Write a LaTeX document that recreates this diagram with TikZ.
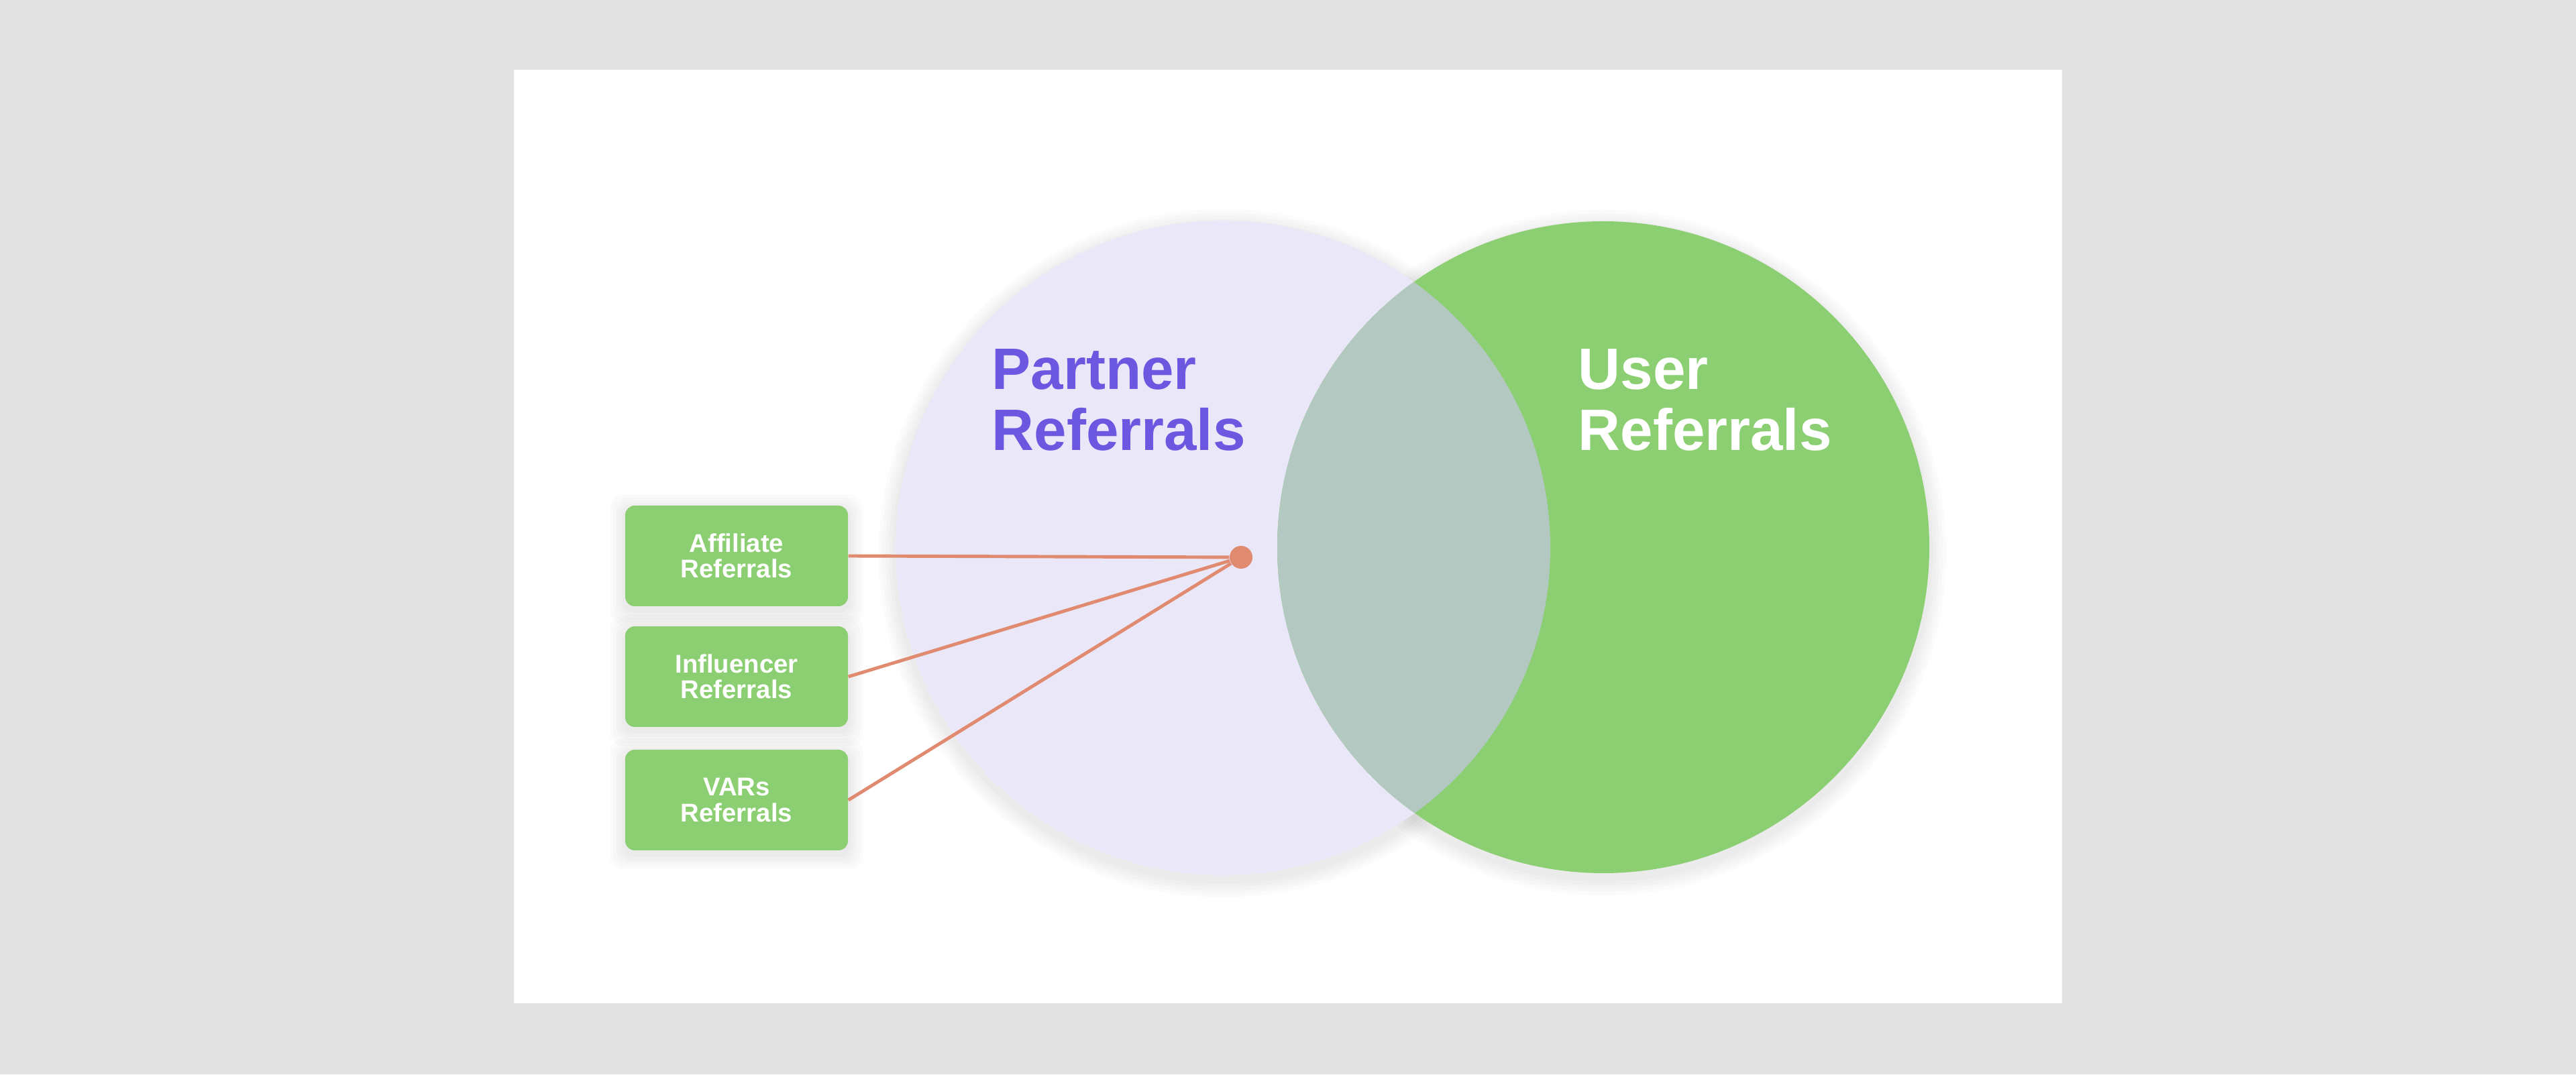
\documentclass[tikz,border=0pt]{standalone}
\usepackage{fontspec}
\setmainfont{Liberation Sans}
\usetikzlibrary{positioning,calc}
\definecolor{refBgGrey}{HTML}{E2E2E2}
\definecolor{refCard}{HTML}{FFFFFF}
\definecolor{refLavender}{HTML}{EAE7F8}
\definecolor{refGreen}{HTML}{8CCF72}
\definecolor{refOverlap}{HTML}{B2C8C0}
\definecolor{refPurple}{HTML}{6B57E0}
\definecolor{refSalmon}{HTML}{E08A70}

\begin{document}
\begin{tikzpicture}[
  refbox/.style={rectangle, rounded corners=0.14cm, fill=refGreen, text=white,
    minimum width=3.32cm, minimum height=1.50cm, inner sep=0pt, align=center,
    font=\fontsize{10.9}{10.9}\selectfont\bfseries},
  biglabel/.style={anchor=west, inner sep=0pt, align=left,
    font=\fontsize{24.8}{25.9}\selectfont\bfseries},
  feed/.style={refSalmon, line width=1.4pt},
  softshade/.style={black, opacity=0.014},
]

% --- CANVAS (grey page + white card) ---
\def\pageW{38.40}
\def\pageH{16.02}
\fill[refBgGrey] (0,0) rectangle (\pageW,\pageH);
\fill[refCard] (7.66,1.06) rectangle (30.74,14.98);

% --- VENN CIRCLES ---
\def\rP{4.88}           % partner circle radius
\def\rU{4.86}           % user circle radius
\coordinate (partnerC) at (18.23,7.85);
\coordinate (userC) at (23.90,7.86);
% faint halo under the circles
\foreach \s in {1,...,5} {
  \fill[softshade] ($(partnerC)+(0,-0.08)$) circle ({\rP+\s*0.05});
  \fill[softshade] ($(userC)+(0,-0.08)$) circle ({\rU+\s*0.05});
}
\fill[refLavender] (partnerC) circle (\rP);
\fill[refGreen] (userC) circle (\rU);
% overlap
\begin{scope}
  \clip (partnerC) circle (\rP);
  \fill[refOverlap] (userC) circle (\rU);
\end{scope}

% --- CIRCLE LABELS ---
\node[biglabel, text=refPurple] (partner) at (14.78,10.055) {Partner\\Referrals};
\node[biglabel, text=white] (user) at (23.52,10.055) {User\\Referrals};

% --- SOURCE BOXES (with soft shadow) ---
\def\bx{10.98}
\foreach \name/\yy/\txt in {aff/7.73/Affiliate, infl/5.93/Influencer, vars/4.09/VARs} {
  \foreach \s in {1,...,5}
    \fill[softshade, rounded corners=0.2cm]
      ({\bx-1.66-\s*0.045}, {\yy-0.75-0.06-\s*0.045}) rectangle
      ({\bx+1.66+\s*0.045}, {\yy+0.75-0.06+\s*0.045});
  \node[refbox] (\name) at (\bx,\yy) {\txt\\Referrals};
}

% --- HUB + FEED LINES ---
\node[circle, fill=refSalmon, minimum size=0.34cm, inner sep=0pt] (hub) at (18.50,7.71) {};
\foreach \name in {aff, infl, vars}
  \draw[feed] (\name.east) -- (hub);

\end{tikzpicture}
\end{document}
